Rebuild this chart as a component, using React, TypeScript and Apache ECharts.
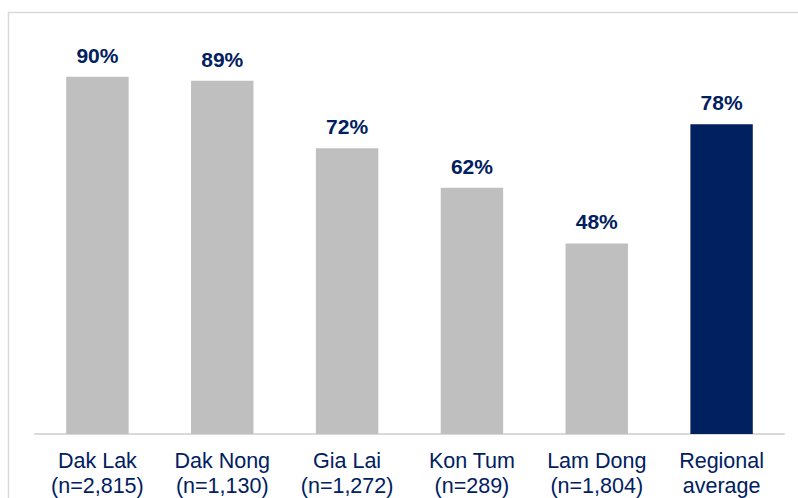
import React, { useEffect, useRef } from "react";
import * as echarts from "echarts";

const categories = [
  "Dak Lak\n(n=2,815)",
  "Dak Nong\n(n=1,130)",
  "Gia Lai\n(n=1,272)",
  "Kon Tum\n(n=289)",
  "Lam Dong\n(n=1,804)",
  "Regional\naverage",
];
const values = [90, 89, 72, 62, 48, 78];
const barColors = ["#bfbfbf", "#bfbfbf", "#bfbfbf", "#bfbfbf", "#bfbfbf", "#002060"];

export default function App() {
  const ref = useRef<HTMLDivElement>(null);
  useEffect(() => {
    if (!ref.current) return;
    const chart = echarts.init(ref.current, null, { renderer: "svg" });
    chart.setOption({
      animation: false,
      backgroundColor: "#ffffff",
      textStyle: { fontFamily: "Liberation Sans, Arial, sans-serif" },
      graphic: [
        {
          type: "rect",
          shape: { x: 8.5, y: 12.5, width: 800, height: 500 },
          style: { fill: "none", stroke: "#d9d9d9", lineWidth: 1.5 },
          silent: true,
        },
      ],
      grid: { left: 35, right: 14, top: 37, bottom: 64, containLabel: false },
      xAxis: {
        type: "category",
        data: categories,
        axisLine: { show: true, lineStyle: { color: "#d9d9d9", width: 2 } },
        axisTick: { show: false },
        axisLabel: {
          color: "#002060",
          fontSize: 21.5,
          lineHeight: 25,
          margin: 14,
          interval: 0,
          fontFamily: "Liberation Sans, Arial, sans-serif",
        },
      },
      yAxis: {
        type: "value",
        min: 0,
        max: 100,
        show: false,
        splitLine: { show: false },
      },
      series: [
        {
          type: "bar",
          barCategoryGap: "50%",
          data: values.map((v, i) => ({ value: v, itemStyle: { color: barColors[i] } })),
          label: {
            show: true,
            position: "top",
            distance: 11,
            formatter: "{c}%",
            color: "#002060",
            fontSize: 21,
            fontWeight: "bold",
            fontFamily: "Liberation Sans, Arial, sans-serif",
          },
        },
      ],
    });
    return () => chart.dispose();
  }, []);
  return (
    <div
      ref={ref}
      style={{ position: "fixed", left: 0, top: 0, width: 798, height: 498 }}
    />
  );
}
